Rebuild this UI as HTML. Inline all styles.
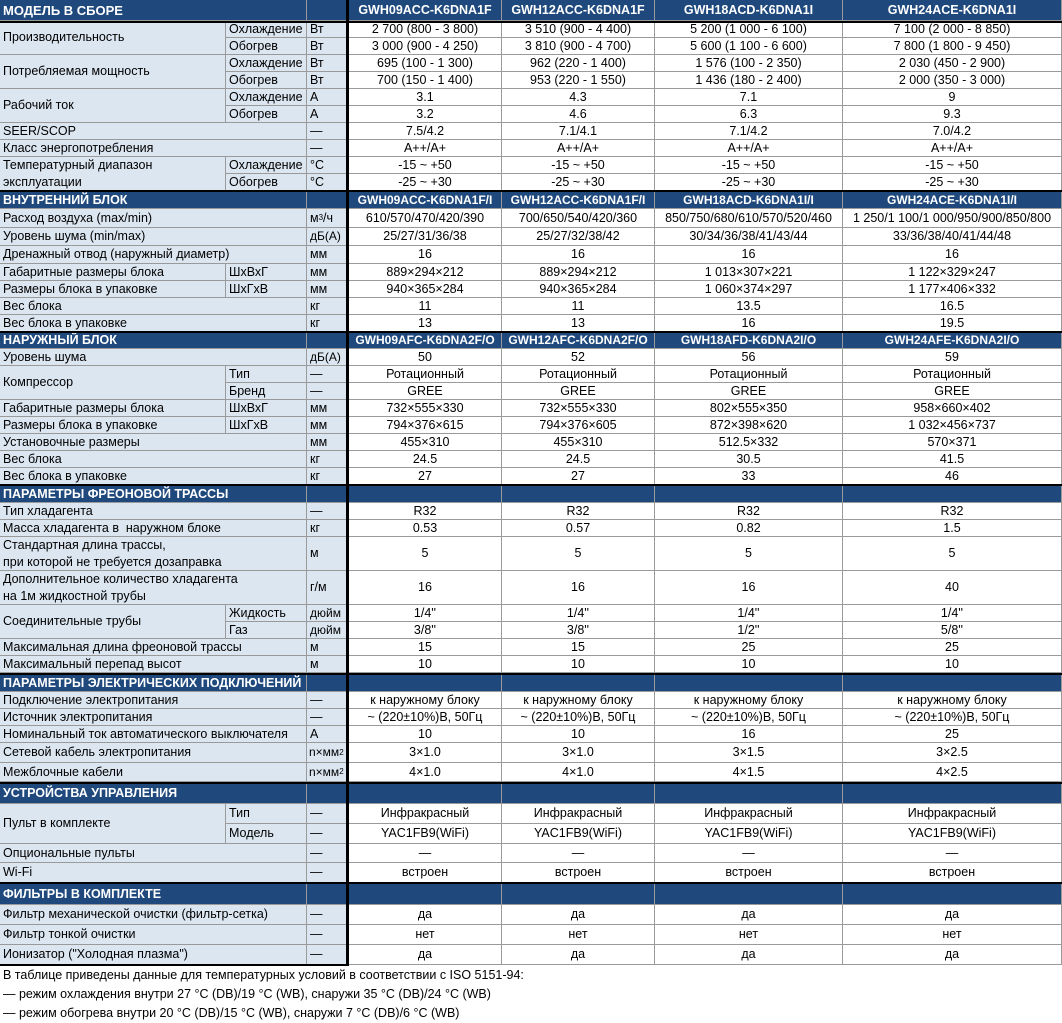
<!DOCTYPE html>
<html lang="ru">
<head>
<meta charset="utf-8">
<style>
html,body{margin:0;padding:0;}
body{width:1062px;height:1023px;position:relative;background:#fff;font-family:"Liberation Sans",sans-serif;font-size:12.5px;color:#000;overflow:hidden;}
.r{position:absolute;left:0;width:1062px;}
.c{position:absolute;top:0;height:100%;box-sizing:border-box;border-right:1px solid #9a9a9a;border-bottom:1px solid #9a9a9a;display:flex;align-items:center;white-space:nowrap;overflow:hidden;line-height:17px;}
.l{background:#dce6f1;padding-left:3px;}
.d{background:#fff;justify-content:center;}
.h{background:#1f497d;color:#fff;font-weight:bold;}
.hm{font-size:12px;justify-content:center;}
.A{left:0;width:226px;}
.B{left:226px;width:81px;}
.C{left:307px;width:40px;}
.AB{left:0;width:307px;}
.d1{left:349px;width:153px;}
.d2{left:502px;width:153px;}
.d3{left:655px;width:188px;}
.d4{left:843px;width:219px;}
.bk{position:absolute;background:#000;}
sup{font-size:8px;line-height:0;vertical-align:5px;}
.fn{position:absolute;left:3px;height:19px;line-height:19px;white-space:nowrap;font-size:12.5px;}
.u{font-size:12px;}
</style>
</head>
<body>

<!-- ===== SECTION 1 ===== -->
<div class="r" style="top:0;height:21px">
 <div class="c h AB" style="padding-left:3px;font-size:13px">МОДЕЛЬ В СБОРЕ</div>
 <div class="c h C"></div>
 <div class="c h hm d1" style="font-size:12.5px">GWH09ACC-K6DNA1F</div>
 <div class="c h hm d2" style="font-size:12.5px">GWH12ACC-K6DNA1F</div>
 <div class="c h hm d3" style="font-size:12.5px">GWH18ACD-K6DNA1I</div>
 <div class="c h hm d4" style="font-size:12.5px">GWH24ACE-K6DNA1I</div>
</div>
<div class="r" style="top:21px;height:17px">
 <div class="c l A" style="height:34px">Производительность</div>
 <div class="c l B">Охлаждение</div><div class="c l C">Вт</div>
 <div class="c d d1">2 700 (800 - 3 800)</div><div class="c d d2">3 510 (900 - 4 400)</div><div class="c d d3">5 200 (1 000 - 6 100)</div><div class="c d d4">7 100 (2 000 - 8 850)</div>
</div>
<div class="r" style="top:38px;height:17px">
 <div class="c l B">Обогрев</div><div class="c l C">Вт</div>
 <div class="c d d1">3 000 (900 - 4 250)</div><div class="c d d2">3 810 (900 - 4 700)</div><div class="c d d3">5 600 (1 100 - 6 600)</div><div class="c d d4">7 800 (1 800 - 9 450)</div>
</div>
<div class="r" style="top:55px;height:17px">
 <div class="c l A" style="height:34px">Потребляемая мощность</div>
 <div class="c l B">Охлаждение</div><div class="c l C">Вт</div>
 <div class="c d d1">695 (100 - 1 300)</div><div class="c d d2">962 (220 - 1 400)</div><div class="c d d3">1 576 (100 - 2 350)</div><div class="c d d4">2 030 (450 - 2 900)</div>
</div>
<div class="r" style="top:72px;height:17px">
 <div class="c l B">Обогрев</div><div class="c l C">Вт</div>
 <div class="c d d1">700 (150 - 1 400)</div><div class="c d d2">953 (220 - 1 550)</div><div class="c d d3">1 436 (180 - 2 400)</div><div class="c d d4">2 000 (350 - 3 000)</div>
</div>
<div class="r" style="top:89px;height:17px">
 <div class="c l A" style="height:34px">Рабочий ток</div>
 <div class="c l B">Охлаждение</div><div class="c l C">А</div>
 <div class="c d d1">3.1</div><div class="c d d2">4.3</div><div class="c d d3">7.1</div><div class="c d d4">9</div>
</div>
<div class="r" style="top:106px;height:17px">
 <div class="c l B">Обогрев</div><div class="c l C">А</div>
 <div class="c d d1">3.2</div><div class="c d d2">4.6</div><div class="c d d3">6.3</div><div class="c d d4">9.3</div>
</div>
<div class="r" style="top:123px;height:17px">
 <div class="c l AB">SEER/SCOP</div><div class="c l C">—</div>
 <div class="c d d1">7.5/4.2</div><div class="c d d2">7.1/4.1</div><div class="c d d3">7.1/4.2</div><div class="c d d4">7.0/4.2</div>
</div>
<div class="r" style="top:140px;height:17px">
 <div class="c l AB">Класс энергопотребления</div><div class="c l C">—</div>
 <div class="c d d1">A++/A+</div><div class="c d d2">A++/A+</div><div class="c d d3">A++/A+</div><div class="c d d4">A++/A+</div>
</div>
<div class="r" style="top:157px;height:17px">
 <div class="c l A" style="height:34px"><div>Температурный диапазон<br>эксплуатации</div></div>
 <div class="c l B">Охлаждение</div><div class="c l C">°C</div>
 <div class="c d d1">-15 ~ +50</div><div class="c d d2">-15 ~ +50</div><div class="c d d3">-15 ~ +50</div><div class="c d d4">-15 ~ +50</div>
</div>
<div class="r" style="top:174px;height:17px">
 <div class="c l B">Обогрев</div><div class="c l C">°C</div>
 <div class="c d d1">-25 ~ +30</div><div class="c d d2">-25 ~ +30</div><div class="c d d3">-25 ~ +30</div><div class="c d d4">-25 ~ +30</div>
</div>

<!-- ===== SECTION 2 ===== -->
<div class="r" style="top:192px;height:17px">
 <div class="c h AB" style="padding-left:3px">ВНУТРЕННИЙ БЛОК</div>
 <div class="c h C"></div>
 <div class="c h hm d1">GWH09ACC-K6DNA1F/I</div>
 <div class="c h hm d2">GWH12ACC-K6DNA1F/I</div>
 <div class="c h hm d3">GWH18ACD-K6DNA1I/I</div>
 <div class="c h hm d4">GWH24ACE-K6DNA1I/I</div>
</div>
<div class="r" style="top:209px;height:19px">
 <div class="c l AB">Расход воздуха (max/min)</div><div class="c l C">м<sup>3</sup>/ч</div>
 <div class="c d d1">610/570/470/420/390</div><div class="c d d2">700/650/540/420/360</div><div class="c d d3">850/750/680/610/570/520/460</div><div class="c d d4">1 250/1 100/1 000/950/900/850/800</div>
</div>
<div class="r" style="top:228px;height:18px">
 <div class="c l AB">Уровень шума (min/max)</div><div class="c l C u">дБ(А)</div>
 <div class="c d d1">25/27/31/36/38</div><div class="c d d2">25/27/32/38/42</div><div class="c d d3">30/34/36/38/41/43/44</div><div class="c d d4">33/36/38/40/41/44/48</div>
</div>
<div class="r" style="top:246px;height:18px">
 <div class="c l AB">Дренажный отвод (наружный диаметр)</div><div class="c l C">мм</div>
 <div class="c d d1">16</div><div class="c d d2">16</div><div class="c d d3">16</div><div class="c d d4">16</div>
</div>
<div class="r" style="top:264px;height:17px">
 <div class="c l A">Габаритные размеры блока</div><div class="c l B">ШхВхГ</div><div class="c l C">мм</div>
 <div class="c d d1">889×294×212</div><div class="c d d2">889×294×212</div><div class="c d d3">1 013×307×221</div><div class="c d d4">1 122×329×247</div>
</div>
<div class="r" style="top:281px;height:17px">
 <div class="c l A">Размеры блока в упаковке</div><div class="c l B">ШхГхВ</div><div class="c l C">мм</div>
 <div class="c d d1">940×365×284</div><div class="c d d2">940×365×284</div><div class="c d d3">1 060×374×297</div><div class="c d d4">1 177×406×332</div>
</div>
<div class="r" style="top:298px;height:17px">
 <div class="c l AB">Вес блока</div><div class="c l C">кг</div>
 <div class="c d d1">11</div><div class="c d d2">11</div><div class="c d d3">13.5</div><div class="c d d4">16.5</div>
</div>
<div class="r" style="top:315px;height:17px">
 <div class="c l AB">Вес блока в упаковке</div><div class="c l C">кг</div>
 <div class="c d d1">13</div><div class="c d d2">13</div><div class="c d d3">16</div><div class="c d d4">19.5</div>
</div>

<!-- ===== SECTION 3 ===== -->
<div class="r" style="top:333px;height:16px">
 <div class="c h AB" style="padding-left:3px">НАРУЖНЫЙ БЛОК</div>
 <div class="c h C"></div>
 <div class="c h hm d1">GWH09AFC-K6DNA2F/O</div>
 <div class="c h hm d2">GWH12AFC-K6DNA2F/O</div>
 <div class="c h hm d3">GWH18AFD-K6DNA2I/O</div>
 <div class="c h hm d4">GWH24AFE-K6DNA2I/O</div>
</div>
<div class="r" style="top:349px;height:17px">
 <div class="c l AB">Уровень шума</div><div class="c l C u">дБ(А)</div>
 <div class="c d d1">50</div><div class="c d d2">52</div><div class="c d d3">56</div><div class="c d d4">59</div>
</div>
<div class="r" style="top:366px;height:17px">
 <div class="c l A" style="height:34px">Компрессор</div>
 <div class="c l B">Тип</div><div class="c l C">—</div>
 <div class="c d d1">Ротационный</div><div class="c d d2">Ротационный</div><div class="c d d3">Ротационный</div><div class="c d d4">Ротационный</div>
</div>
<div class="r" style="top:383px;height:17px">
 <div class="c l B">Бренд</div><div class="c l C">—</div>
 <div class="c d d1">GREE</div><div class="c d d2">GREE</div><div class="c d d3">GREE</div><div class="c d d4">GREE</div>
</div>
<div class="r" style="top:400px;height:17px">
 <div class="c l A">Габаритные размеры блока</div><div class="c l B">ШхВхГ</div><div class="c l C">мм</div>
 <div class="c d d1">732×555×330</div><div class="c d d2">732×555×330</div><div class="c d d3">802×555×350</div><div class="c d d4">958×660×402</div>
</div>
<div class="r" style="top:417px;height:17px">
 <div class="c l A">Размеры блока в упаковке</div><div class="c l B">ШхГхВ</div><div class="c l C">мм</div>
 <div class="c d d1">794×376×615</div><div class="c d d2">794×376×605</div><div class="c d d3">872×398×620</div><div class="c d d4">1 032×456×737</div>
</div>
<div class="r" style="top:434px;height:17px">
 <div class="c l AB">Установочные размеры</div><div class="c l C">мм</div>
 <div class="c d d1">455×310</div><div class="c d d2">455×310</div><div class="c d d3">512.5×332</div><div class="c d d4">570×371</div>
</div>
<div class="r" style="top:451px;height:17px">
 <div class="c l AB">Вес блока</div><div class="c l C">кг</div>
 <div class="c d d1">24.5</div><div class="c d d2">24.5</div><div class="c d d3">30.5</div><div class="c d d4">41.5</div>
</div>
<div class="r" style="top:468px;height:17px">
 <div class="c l AB">Вес блока в упаковке</div><div class="c l C">кг</div>
 <div class="c d d1">27</div><div class="c d d2">27</div><div class="c d d3">33</div><div class="c d d4">46</div>
</div>

<!-- ===== SECTION 4 ===== -->
<div class="r" style="top:486px;height:17px">
 <div class="c h AB" style="padding-left:3px">ПАРАМЕТРЫ ФРЕОНОВОЙ ТРАССЫ</div>
 <div class="c h C"></div>
 <div class="c h d1"></div><div class="c h d2"></div><div class="c h d3"></div><div class="c h d4"></div>
</div>
<div class="r" style="top:503px;height:17px">
 <div class="c l AB">Тип хладагента</div><div class="c l C">—</div>
 <div class="c d d1">R32</div><div class="c d d2">R32</div><div class="c d d3">R32</div><div class="c d d4">R32</div>
</div>
<div class="r" style="top:520px;height:17px">
 <div class="c l AB">Масса хладагента в&nbsp; наружном блоке</div><div class="c l C">кг</div>
 <div class="c d d1">0.53</div><div class="c d d2">0.57</div><div class="c d d3">0.82</div><div class="c d d4">1.5</div>
</div>
<div class="r" style="top:537px;height:34px">
 <div class="c l AB"><div>Стандартная длина трассы,<br>при которой не требуется дозаправка</div></div><div class="c l C">м</div>
 <div class="c d d1">5</div><div class="c d d2">5</div><div class="c d d3">5</div><div class="c d d4">5</div>
</div>
<div class="r" style="top:571px;height:34px">
 <div class="c l AB"><div>Дополнительное количество хладагента<br>на 1м жидкостной трубы</div></div><div class="c l C">г/м</div>
 <div class="c d d1">16</div><div class="c d d2">16</div><div class="c d d3">16</div><div class="c d d4">40</div>
</div>
<div class="r" style="top:605px;height:17px">
 <div class="c l A" style="height:34px">Соединительные трубы</div>
 <div class="c l B">Жидкость</div><div class="c l C u">дюйм</div>
 <div class="c d d1">1/4''</div><div class="c d d2">1/4''</div><div class="c d d3">1/4''</div><div class="c d d4">1/4''</div>
</div>
<div class="r" style="top:622px;height:17px">
 <div class="c l B">Газ</div><div class="c l C u">дюйм</div>
 <div class="c d d1">3/8''</div><div class="c d d2">3/8''</div><div class="c d d3">1/2''</div><div class="c d d4">5/8''</div>
</div>
<div class="r" style="top:639px;height:17px">
 <div class="c l AB">Максимальная длина фреоновой трассы</div><div class="c l C">м</div>
 <div class="c d d1">15</div><div class="c d d2">15</div><div class="c d d3">25</div><div class="c d d4">25</div>
</div>
<div class="r" style="top:656px;height:17px">
 <div class="c l AB">Максимальный перепад высот</div><div class="c l C">м</div>
 <div class="c d d1">10</div><div class="c d d2">10</div><div class="c d d3">10</div><div class="c d d4">10</div>
</div>

<!-- ===== SECTION 5 ===== -->
<div class="r" style="top:675px;height:17px">
 <div class="c h AB" style="padding-left:3px">ПАРАМЕТРЫ ЭЛЕКТРИЧЕСКИХ ПОДКЛЮЧЕНИЙ</div>
 <div class="c h C"></div>
 <div class="c h d1"></div><div class="c h d2"></div><div class="c h d3"></div><div class="c h d4"></div>
</div>
<div class="r" style="top:692px;height:17px">
 <div class="c l AB">Подключение электропитания</div><div class="c l C">—</div>
 <div class="c d d1">к наружному блоку</div><div class="c d d2">к наружному блоку</div><div class="c d d3">к наружному блоку</div><div class="c d d4">к наружному блоку</div>
</div>
<div class="r" style="top:709px;height:17px">
 <div class="c l AB">Источник электропитания</div><div class="c l C">—</div>
 <div class="c d d1">~ (220±10%)В, 50Гц</div><div class="c d d2">~ (220±10%)В, 50Гц</div><div class="c d d3">~ (220±10%)В, 50Гц</div><div class="c d d4">~ (220±10%)В, 50Гц</div>
</div>
<div class="r" style="top:726px;height:17px">
 <div class="c l AB">Номинальный ток автоматического выключателя</div><div class="c l C">А</div>
 <div class="c d d1">10</div><div class="c d d2">10</div><div class="c d d3">16</div><div class="c d d4">25</div>
</div>
<div class="r" style="top:743px;height:20px">
 <div class="c l AB">Сетевой кабель электропитания</div><div class="c l C u" style="padding-left:2px">n×мм<sup>2</sup></div>
 <div class="c d d1">3×1.0</div><div class="c d d2">3×1.0</div><div class="c d d3">3×1.5</div><div class="c d d4">3×2.5</div>
</div>
<div class="r" style="top:763px;height:19px">
 <div class="c l AB">Межблочные кабели</div><div class="c l C u" style="padding-left:2px">n×мм<sup>2</sup></div>
 <div class="c d d1">4×1.0</div><div class="c d d2">4×1.0</div><div class="c d d3">4×1.5</div><div class="c d d4">4×2.5</div>
</div>

<!-- ===== SECTION 6 ===== -->
<div class="r" style="top:784px;height:20px">
 <div class="c h AB" style="padding-left:3px">УСТРОЙСТВА УПРАВЛЕНИЯ</div>
 <div class="c h C"></div>
 <div class="c h d1"></div><div class="c h d2"></div><div class="c h d3"></div><div class="c h d4"></div>
</div>
<div class="r" style="top:804px;height:20px">
 <div class="c l A" style="height:40px">Пульт в комплекте</div>
 <div class="c l B">Тип</div><div class="c l C">—</div>
 <div class="c d d1">Инфракрасный</div><div class="c d d2">Инфракрасный</div><div class="c d d3">Инфракрасный</div><div class="c d d4">Инфракрасный</div>
</div>
<div class="r" style="top:824px;height:20px">
 <div class="c l B">Модель</div><div class="c l C">—</div>
 <div class="c d d1">YAC1FB9(WiFi)</div><div class="c d d2">YAC1FB9(WiFi)</div><div class="c d d3">YAC1FB9(WiFi)</div><div class="c d d4">YAC1FB9(WiFi)</div>
</div>
<div class="r" style="top:844px;height:19px">
 <div class="c l AB">Опциональные пульты</div><div class="c l C">—</div>
 <div class="c d d1">—</div><div class="c d d2">—</div><div class="c d d3">—</div><div class="c d d4">—</div>
</div>
<div class="r" style="top:863px;height:20px">
 <div class="c l AB">Wi-Fi</div><div class="c l C">—</div>
 <div class="c d d1">встроен</div><div class="c d d2">встроен</div><div class="c d d3">встроен</div><div class="c d d4">встроен</div>
</div>

<!-- ===== SECTION 7 ===== -->
<div class="r" style="top:884px;height:21px">
 <div class="c h AB" style="padding-left:3px">ФИЛЬТРЫ В КОМПЛЕКТЕ</div>
 <div class="c h C"></div>
 <div class="c h d1"></div><div class="c h d2"></div><div class="c h d3"></div><div class="c h d4"></div>
</div>
<div class="r" style="top:905px;height:20px">
 <div class="c l AB">Фильтр механической очистки (фильтр-сетка)</div><div class="c l C">—</div>
 <div class="c d d1">да</div><div class="c d d2">да</div><div class="c d d3">да</div><div class="c d d4">да</div>
</div>
<div class="r" style="top:925px;height:20px">
 <div class="c l AB">Фильтр тонкой очистки</div><div class="c l C">—</div>
 <div class="c d d1">нет</div><div class="c d d2">нет</div><div class="c d d3">нет</div><div class="c d d4">нет</div>
</div>
<div class="r" style="top:945px;height:20px">
 <div class="c l AB">Ионизатор ("Холодная плазма")</div><div class="c l C">—</div>
 <div class="c d d1">да</div><div class="c d d2">да</div><div class="c d d3">да</div><div class="c d d4">да</div>
</div>

<!-- thick black lines -->
<div class="bk" style="left:346px;top:0;width:3px;height:966px"></div>
<div class="bk" style="left:0;top:21px;width:1062px;height:2px"></div>
<div class="bk" style="left:0;top:190px;width:1062px;height:2px"></div>
<div class="bk" style="left:0;top:331px;width:1062px;height:2px"></div>
<div class="bk" style="left:0;top:484px;width:1062px;height:2px"></div>
<div class="bk" style="left:0;top:673px;width:1062px;height:2px"></div>
<div class="bk" style="left:0;top:782px;width:1062px;height:2px"></div>
<div class="bk" style="left:0;top:882px;width:1062px;height:2px"></div>
<div class="bk" style="left:0;top:964px;width:349px;height:2px"></div>

<!-- footnotes -->
<div class="fn" style="top:966px">В таблице приведены данные для температурных условий в соответствии с ISO 5151-94:</div>
<div class="fn" style="top:985px">— режим охлаждения внутри 27 °C (DB)/19 °C (WB), снаружи 35 °C (DB)/24 °C (WB)</div>
<div class="fn" style="top:1004px">— режим обогрева внутри 20 °C (DB)/15 °C (WB), снаружи 7 °C (DB)/6 °C (WB)</div>

</body>
</html>
